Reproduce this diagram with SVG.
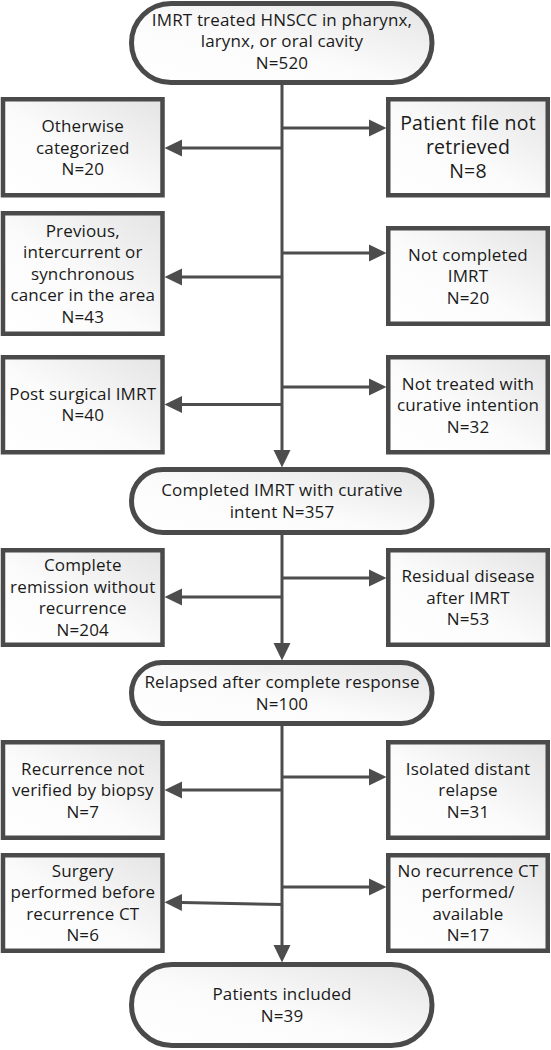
<svg xmlns="http://www.w3.org/2000/svg" width="551" height="1050" viewBox="0 0 551 1050">
<defs>
<linearGradient id="g" x1="1" y1="0" x2="0" y2="1">
<stop offset="0" stop-color="#e4e4e4"/>
<stop offset="0.55" stop-color="#fbfbfb"/>
<stop offset="1" stop-color="#ffffff"/>
</linearGradient>
<marker id="ah" markerUnits="userSpaceOnUse" markerWidth="18" markerHeight="18" refX="0" refY="8.5" orient="auto" viewBox="0 0 18 17">
<path d="M0,0 L17.5,8.5 L0,17 z" fill="#4d4d4d"/>
</marker>
<style>
.box{fill:url(#g);stroke:#4a4a4a;stroke-width:4.5}
.st{fill:url(#g);stroke:#4a4a4a;stroke-width:5}
.ln{fill:none;stroke:#4d4d4d;stroke-width:3;marker-end:url(#ah)}
text{font-family:"Open Sans","Noto Sans","DejaVu Sans",sans-serif;font-size:17px;letter-spacing:0.15px;fill:#1a1a1a;text-anchor:middle}
.big{font-size:19.5px;letter-spacing:0.2px}
</style>
</defs>

<g id="connectors">
<line class="ln" x1="282" y1="85" x2="282" y2="450"/>
<line class="ln" x1="282" y1="535" x2="282" y2="643"/>
<line class="ln" x1="282" y1="726" x2="282" y2="945"/>
<line class="ln" x1="282" y1="128" x2="369" y2="128"/>
<line class="ln" x1="282" y1="148" x2="182" y2="148"/>
<line class="ln" x1="282" y1="253" x2="369" y2="253"/>
<line class="ln" x1="282" y1="277" x2="182" y2="277"/>
<line class="ln" x1="282" y1="387" x2="369" y2="387"/>
<line class="ln" x1="282" y1="404.5" x2="182" y2="404.5"/>
<line class="ln" x1="282" y1="578" x2="369" y2="578"/>
<line class="ln" x1="282" y1="597" x2="182" y2="597"/>
<line class="ln" x1="282" y1="777" x2="369" y2="777"/>
<line class="ln" x1="282" y1="790" x2="182" y2="790"/>
<line class="ln" x1="282" y1="887" x2="369" y2="887"/>
<line class="ln" x1="282" y1="904.5" x2="182" y2="902.5"/>
</g>

<g id="n_start">
<rect class="st" x="131.5" y="3.5" width="300.5" height="79" rx="39.5"/>
<text x="282" y="25.5">IMRT treated HNSCC in pharynx,</text>
<text x="282" y="47">larynx, or oral cavity</text>
<text x="282" y="68.5">N=520</text>
</g>

<g id="n_otherwise">
<rect class="box" x="3" y="99.25" width="159.5" height="96"/>
<text x="82.75" y="132">Otherwise</text>
<text x="82.75" y="153.5">categorized</text>
<text x="82.75" y="175">N=20</text>
</g>

<g id="n_file">
<rect class="box" x="388.25" y="99.25" width="159.5" height="96"/>
<text class="big" x="468" y="129.5">Patient file not</text>
<text class="big" x="468" y="153.5">retrieved</text>
<text class="big" x="468" y="177.5">N=8</text>
</g>

<g id="n_previous">
<rect class="box" x="3" y="213.25" width="159.5" height="120.5"/>
<text x="82.75" y="236.5">Previous,</text>
<text x="82.75" y="258">intercurrent or</text>
<text x="82.75" y="279.5">synchronous</text>
<text x="82.75" y="301">cancer in the area</text>
<text x="82.75" y="322.5">N=43</text>
</g>

<g id="n_notcompleted">
<rect class="box" x="388.25" y="228.25" width="159.5" height="95.5"/>
<text x="468" y="260.5">Not completed</text>
<text x="468" y="282">IMRT</text>
<text x="468" y="303.5">N=20</text>
</g>

<g id="n_postsurg">
<rect class="box" x="3" y="357.25" width="159.5" height="95"/>
<text x="82.75" y="399.75">Post surgical IMRT</text>
<text x="82.75" y="421.25">N=40</text>
</g>

<g id="n_notcurative">
<rect class="box" x="388.25" y="357.25" width="159.5" height="95"/>
<text x="468" y="389.5">Not treated with</text>
<text x="468" y="411">curative intention</text>
<text x="468" y="432.5">N=32</text>
</g>

<g id="n_completed">
<rect class="st" x="131.5" y="469.5" width="300.5" height="63" rx="31.5"/>
<text x="282" y="496">Completed IMRT with curative</text>
<text x="282" y="517.5">intent N=357</text>
</g>

<g id="n_remission">
<rect class="box" x="3" y="550.25" width="159.5" height="94.5"/>
<text x="82.75" y="571.25">Complete</text>
<text x="82.75" y="592.75">remission without</text>
<text x="82.75" y="614.25">recurrence</text>
<text x="82.75" y="635.75">N=204</text>
</g>

<g id="n_residual">
<rect class="box" x="388.25" y="550.25" width="159.5" height="94.5"/>
<text x="468" y="582">Residual disease</text>
<text x="468" y="603.5">after IMRT</text>
<text x="468" y="625">N=53</text>
</g>

<g id="n_relapsed">
<rect class="st" x="131.5" y="662.5" width="300.5" height="61" rx="30.5"/>
<text x="282" y="688">Relapsed after complete response</text>
<text x="282" y="709.5">N=100</text>
</g>

<g id="n_notverified">
<rect class="box" x="3" y="742.25" width="159.5" height="95.5"/>
<text x="82.75" y="774.5">Recurrence not</text>
<text x="82.75" y="796">verified by biopsy</text>
<text x="82.75" y="817.5">N=7</text>
</g>

<g id="n_distant">
<rect class="box" x="388.25" y="742.25" width="159.5" height="95.5"/>
<text x="468" y="774.5">Isolated distant</text>
<text x="468" y="796">relapse</text>
<text x="468" y="817.5">N=31</text>
</g>

<g id="n_surgery">
<rect class="box" x="3" y="855.25" width="159.5" height="95.5"/>
<text x="82.75" y="876.75">Surgery</text>
<text x="82.75" y="898.25">performed before</text>
<text x="82.75" y="919.75">recurrence CT</text>
<text x="82.75" y="941.25">N=6</text>
</g>

<g id="n_noct">
<rect class="box" x="388.25" y="855.25" width="159.5" height="95.5"/>
<text x="468" y="876.75">No recurrence CT</text>
<text x="468" y="898.25">performed/</text>
<text x="468" y="919.75">available</text>
<text x="468" y="941.25">N=17</text>
</g>

<g id="n_included">
<rect class="st" x="131.5" y="964.5" width="300.5" height="81" rx="40.5"/>
<text x="282" y="1000.25">Patients included</text>
<text x="282" y="1021.75">N=39</text>
</g>
</svg>
